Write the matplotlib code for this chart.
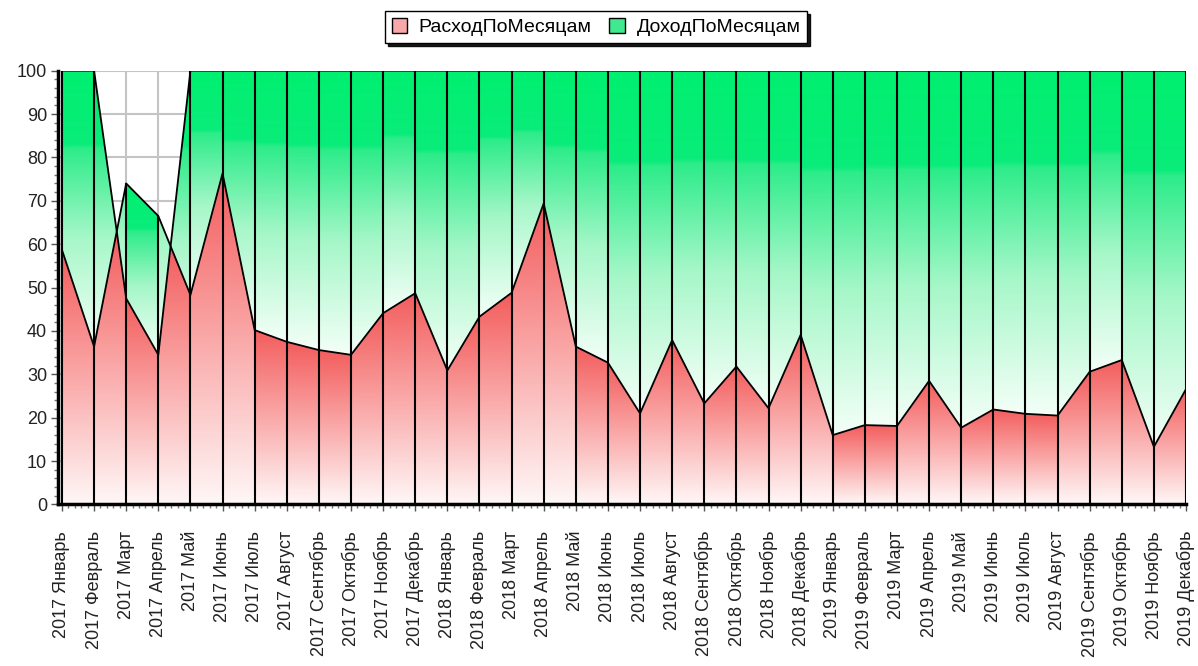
import numpy as np
import matplotlib.pyplot as plt
from matplotlib.patches import Polygon, Rectangle

plt.rcParams['font.family'] = ['Liberation Sans', 'DejaVu Sans']

# подписи месяцев
mesyacy = ['Январь', 'Февраль', 'Март', 'Апрель', 'Май', 'Июнь', 'Июль', 'Август',
           'Сентябрь', 'Октябрь', 'Ноябрь', 'Декабрь']
goda = [2017, 2018, 2019]
podpisi = [f'{g} {m}' for g in goda for m in mesyacy]

# расход, %
rashod = [58.7, 36.4, 74.0, 66.5, 48.3, 76.3, 40.2, 37.5, 35.6, 34.5, 44.1, 48.7,
          30.9, 43.3, 48.8, 69.4, 36.4, 32.7, 21.0, 37.9, 23.3, 31.8, 22.2, 39.1,
          16.0, 18.3, 18.1, 28.5, 17.7, 21.9, 20.9, 20.5, 30.6, 33.3, 13.3, 26.6]
# доход, % (в накоплении поверх расхода)
dohod = [41.3, 63.6, -26.5, -32.0, 51.7, 23.7, 59.8, 62.5, 64.4, 65.5, 55.9, 51.3,
         69.1, 56.7, 51.2, 30.6, 63.6, 67.3, 79.0, 62.1, 76.7, 68.2, 77.8, 60.9,
         84.0, 81.7, 81.9, 71.5, 82.3, 78.1, 79.1, 79.5, 69.4, 66.7, 86.7, 73.4]

p = np.array(rashod)
q = p + np.array(dohod)
x = np.arange(len(p))


def make_gradient(stops):
    """Вертикальный градиент по опорным цветам (низ -> верх)."""
    t = np.linspace(0, 1, 512)
    pos = [s[0] for s in stops]
    rgb = np.zeros((512, 1, 3))
    for k in range(3):
        rgb[:, 0, k] = np.interp(t, pos, [s[1][k] / 255 for s in stops])
    return rgb


red_grad = make_gradient([(0, (255, 247, 247)), (0.5, (250, 168, 168)), (1, (243, 92, 92))])
green_grad = make_gradient([(0, (244, 255, 248)), (0.4, (165, 247, 200)), (0.72, (45, 236, 138)),
                            (0.735, (10, 236, 122)), (1, (0, 240, 112))])


def fill_gradient(ax, pts, grad, x0, x1, lo, hi):
    poly = Polygon(pts, closed=True, facecolor='none', edgecolor='none', transform=ax.transData)
    ax.add_patch(poly)
    im = ax.imshow(grad, origin='lower', extent=[x0, x1, lo, hi], aspect='auto',
                   interpolation='bilinear', zorder=1)
    im.set_clip_path(poly)


fig = plt.figure(figsize=(11.98, 6.66), dpi=100)
ax = fig.add_axes([0.0485, 0.2425, 0.9415, 0.6514])

for i in range(len(x) - 1):
    x0, x1 = x[i], x[i + 1]
    d0, d1 = p[i] - q[i], p[i + 1] - q[i + 1]
    lower = [(x0, min(p[i], q[i]))]
    upper = [(x0, max(p[i], q[i]))]
    if d0 * d1 < 0:
        t = d0 / (d0 - d1)
        yc = p[i] + t * (p[i + 1] - p[i])
        lower.append((x0 + t, yc))
        upper.append((x0 + t, yc))
    lower.append((x1, min(p[i + 1], q[i + 1])))
    upper.append((x1, max(p[i + 1], q[i + 1])))

    top_red = max(v for _, v in lower)
    fill_gradient(ax, [(x0, 0)] + lower + [(x1, 0)], red_grad, x0, x1, 0, top_red)

    lo_g = min(v for _, v in lower)
    hi_g = max(v for _, v in upper)
    if hi_g - lo_g > 0.01:
        fill_gradient(ax, lower + upper[::-1], green_grad, x0, x1, lo_g, hi_g)

# линии серий и вертикальные линии
ax.plot(x, p, color='black', lw=1.3, zorder=3)
ax.plot(x, q, color='black', lw=1.3, zorder=3)
ax.vlines(x, 0, np.maximum(p, q), color='black', lw=1.5, zorder=3)

ax.set_xlim(-0.12, len(x) - 1)
ax.set_ylim(0, 100)

ax.set_xticks(x)
ax.set_xticklabels(podpisi, rotation=90, fontsize=13, color='#222222')
ax.set_xticks(np.arange(0, len(x) - 1, 0.2), minor=True)
ax.set_yticks(np.arange(0, 101, 10))
ax.set_yticklabels([str(v) for v in range(0, 101, 10)], fontsize=13, color='#222222')
ax.set_yticks(np.arange(0, 101, 2), minor=True)
ax.tick_params(axis='both', which='major', length=5, width=1, color='#555555')
ax.tick_params(axis='both', which='minor', length=3, width=1, color='#777777')
ax.tick_params(axis='x', which='major', pad=14)
ax.tick_params(axis='y', which='major', pad=3)

ax.grid(True, which='major', color='#c4c4c4', lw=1.5, zorder=0)
ax.set_axisbelow(True)

for s in ['top', 'right']:
    ax.spines[s].set_visible(False)
for s in ['left', 'bottom']:
    ax.spines[s].set_linewidth(2.5)
    ax.spines[s].set_zorder(4)

handles = [Rectangle((0, 0), 1, 1, facecolor='#f8a8a8', edgecolor='black', lw=1),
           Rectangle((0, 0), 1, 1, facecolor='#40e890', edgecolor='black', lw=1)]
fig.legend(handles, ['РасходПоМесяцам', 'ДоходПоМесяцам'], loc='center',
           bbox_to_anchor=(0.4975, 0.959), ncol=2, fontsize=14, frameon=True,
           fancybox=False, shadow={'color': 'black', 'alpha': 0.9}, edgecolor='black',
           handlelength=0.8, handleheight=0.8, handletextpad=0.6, columnspacing=0.9,
           borderpad=0.35)

fig.savefig('out.png', dpi=100)
